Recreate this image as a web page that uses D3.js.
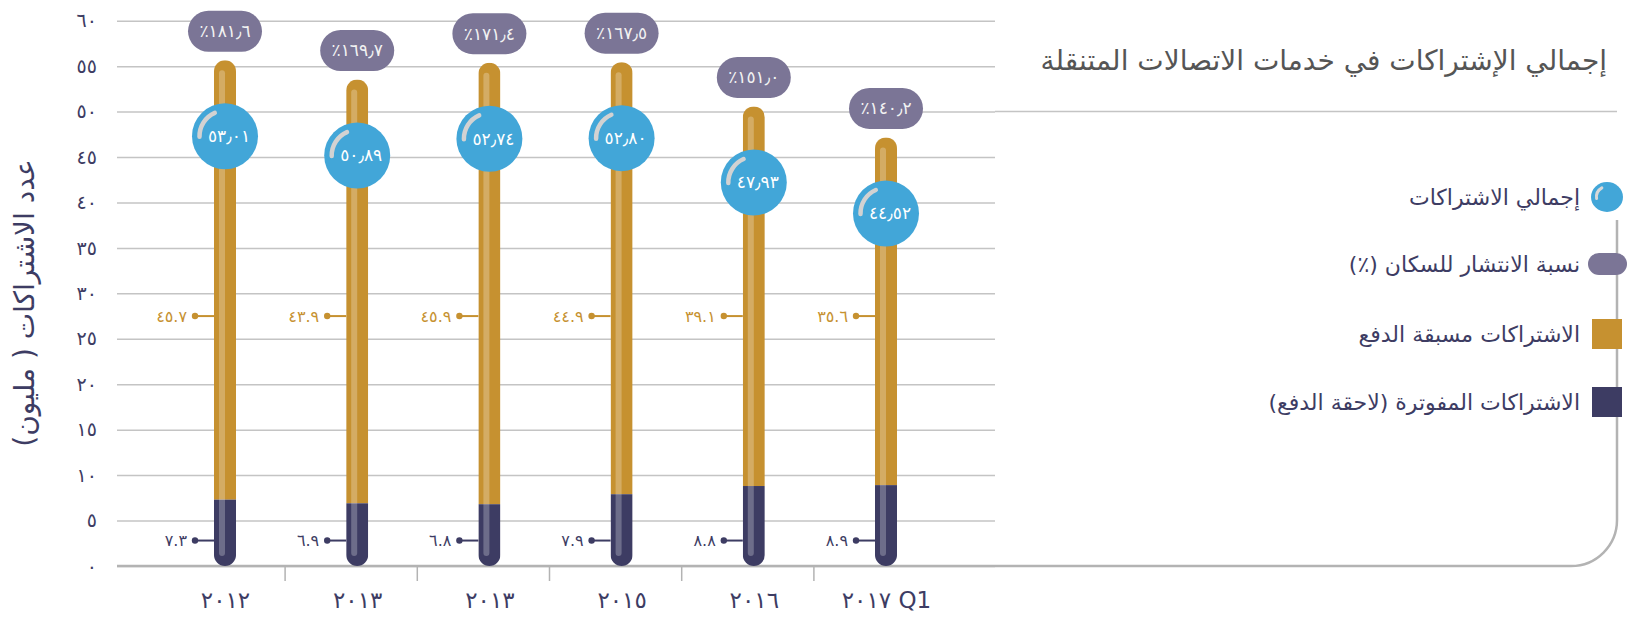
<!DOCTYPE html>
<html>
<head>
<meta charset="utf-8">
<script src="https://cdn.jsdelivr.net/npm/d3@7/dist/d3.min.js"></script>
<style>
body { margin: 0; background: #fff; }
svg text { font-family: "DejaVu Sans", sans-serif; }
</style>
</head>
<body>
<div id="chart"></div>
<script>
// data
var years = ["2012", "2013", "2014", "2015", "2016", "2017 Q1"];
var xLabels = ["٢٠١٢", "٢٠١٣", "٢٠١٣", "٢٠١٥", "٢٠١٦", "٢٠١٧ Q1"];
var prepaid = [45.7, 43.9, 45.9, 44.9, 39.1, 35.6];
var postpaid = [7.3, 6.9, 6.8, 7.9, 8.8, 8.9];
var totals = [53.01, 50.89, 52.74, 52.80, 47.93, 44.52];
var penetration = [181.6, 169.7, 171.4, 167.5, 151.0, 140.2];
var yTicks = [0, 5, 10, 15, 20, 25, 30, 35, 40, 45, 50, 55, 60];
var yTickLabels = ["٠", "٥", "١٠", "١٥", "٢٠", "٢٥", "٣٠", "٣٥", "٤٠", "٤٥", "٥٠", "٥٥", "٦٠"];
var legendLabels = ["إجمالي الاشتراكات", "نسبة الانتشار للسكان (٪)", "الاشتراكات مسبقة الدفع", "الاشتراكات المفوترة (لاحقة الدفع)"];
var title = "إجمالي الإشتراكات في خدمات الاتصالات المتنقلة";
var yTitle = "عدد الاشتراكات ( مليون)";

var gold = "#c69130", navy = "#3d3c63", blue = "#42a6d8", purple = "#7b7596", grid = "#c4c4c4";

function arabic(v, dec, sep) {
	var s = v.toFixed(dec).replace(".", sep);
	return s.replace(/[0-9]/g, function(c) { return "٠١٢٣٤٥٦٧٨٩"[+c]; });
}

var W = 1641, H = 617,
	left = 117, gridRight = 995, frameRight = 1617,
	barW = 22;

var svg = d3.select("#chart").append("svg")
	.attr("width", W)
	.attr("height", H);

var y = d3.scaleLinear().domain([0, 60]).range([566, 20.7]);
var x = d3.scalePoint().domain(years).range([225, 886]);

// y axis + grid
var yAxis = svg.append("g")
	.attr("transform", "translate(" + left + ",0)")
	.call(d3.axisLeft(y)
		.tickValues(yTicks)
		.tickSize(-(gridRight - left))
		.tickPadding(20)
		.tickFormat(function(d, i) { return yTickLabels[i]; }));
yAxis.select(".domain").remove();
yAxis.selectAll("line").attr("stroke", grid).attr("stroke-width", 1.5);
yAxis.selectAll("text").attr("fill", navy).attr("font-size", 19);

// title and its rule
svg.append("line")
	.attr("x1", gridRight).attr("x2", frameRight)
	.attr("y1", y(50)).attr("y2", y(50))
	.attr("stroke", grid).attr("stroke-width", 1.5);
svg.append("text")
	.attr("x", 1607).attr("y", 70)
	.attr("direction", "rtl")
	.attr("text-anchor", "start")
	.attr("font-size", 28)
	.attr("fill", "#555")
	.text(title);

// frame: bottom axis + right side with rounded corner
var r = 46;
svg.append("path")
	.attr("d", "M" + left + "," + y(0) + "H" + (frameRight - r) +
		"A" + r + "," + r + " 0 0 0 " + frameRight + "," + (y(0) - r) + "V220")
	.attr("fill", "none")
	.attr("stroke", "#b3b3b3")
	.attr("stroke-width", 2.5);

// x axis labels and separators
var xAxis = svg.append("g")
	.attr("transform", "translate(0," + y(0) + ")")
	.call(d3.axisBottom(x).tickSize(0).tickPadding(26)
		.tickFormat(function(d, i) { return xLabels[i]; }));
xAxis.select(".domain").remove();
xAxis.selectAll("text").attr("fill", navy).attr("font-size", 23);

svg.selectAll(".sep")
	.data(years.slice(1))
	.enter().append("line")
	.attr("class", "sep")
	.attr("x1", function(d, i) { return (x(years[i]) + x(d)) / 2 - 6; })
	.attr("x2", function(d, i) { return (x(years[i]) + x(d)) / 2 - 6; })
	.attr("y1", y(0)).attr("y2", y(0) + 15)
	.attr("stroke", "#b3b3b3").attr("stroke-width", 1.5);

// bars
var defs = svg.append("defs");
var bars = svg.selectAll(".bar")
	.data(years)
	.enter().append("g")
	.attr("class", "bar");

bars.each(function(d, i) {
	var g = d3.select(this),
		bx = x(d) - barW / 2,
		top = y(totals[i]) - 24,
		bottom = y(0);
	defs.append("clipPath").attr("id", "clip" + i)
		.append("rect")
		.attr("x", bx).attr("y", top)
		.attr("width", barW).attr("height", bottom - top)
		.attr("rx", barW / 2);
	var c = g.append("g").attr("clip-path", "url(#clip" + i + ")");
	c.append("rect")
		.attr("x", bx).attr("y", top)
		.attr("width", barW).attr("height", y(postpaid[i]) - top)
		.attr("fill", gold);
	c.append("rect")
		.attr("x", bx).attr("y", y(postpaid[i]))
		.attr("width", barW).attr("height", bottom - y(postpaid[i]))
		.attr("fill", navy);
	g.append("rect")
		.attr("x", bx + 5).attr("y", top + 10)
		.attr("width", 6).attr("height", bottom - top - 20)
		.attr("rx", 3)
		.attr("fill", "#fff").attr("opacity", 0.25);

	// side labels
	var ly = [y(27.5), y(2.8)], vals = [prepaid[i], postpaid[i]], cols = [gold, navy];
	ly.forEach(function(yy, k) {
		g.append("line")
			.attr("x1", bx - 19).attr("x2", bx)
			.attr("y1", yy).attr("y2", yy)
			.attr("stroke", cols[k]).attr("stroke-width", 2);
		g.append("circle")
			.attr("cx", bx - 19).attr("cy", yy).attr("r", 3.2)
			.attr("fill", cols[k]);
		g.append("text")
			.attr("x", bx - 27).attr("y", yy)
			.attr("dy", "0.35em")
			.attr("text-anchor", "end")
			.attr("font-size", 16)
			.attr("fill", cols[k])
			.text(arabic(vals[k], 1, "."));
	});

	// penetration pill
	var py = y(totals[i]) - 53;
	g.append("rect")
		.attr("x", x(d) - 37).attr("y", py - 20.5)
		.attr("width", 74).attr("height", 41)
		.attr("rx", 20.5)
		.attr("fill", purple);
	g.append("text")
		.attr("x", x(d)).attr("y", py)
		.attr("dy", "0.35em")
		.attr("text-anchor", "middle")
		.attr("font-size", 17)
		.attr("fill", "#f2f2f2")
		.text("٪" + arabic(penetration[i], 1, "٫"));

	// total bubble
	var cy = y(totals[i]) + 52, cx = x(d);
	g.append("circle")
		.attr("cx", cx).attr("cy", cy).attr("r", 33)
		.attr("fill", blue);
	var p = d3.path();
	p.arc(cx, cy, 25.5, 3.12, 4.3);
	g.append("path")
		.attr("d", p.toString())
		.attr("fill", "none")
		.attr("stroke", "#d2d2d2")
		.attr("stroke-width", 4.5)
		.attr("stroke-linecap", "round");
	g.append("text")
		.attr("x", cx + 4).attr("y", cy)
		.attr("dy", "0.35em")
		.attr("text-anchor", "middle")
		.attr("font-size", 17)
		.attr("fill", "#fff")
		.text(arabic(totals[i], 2, "٫"));
});

// y axis title
svg.append("text")
	.attr("transform", "translate(34,303) rotate(-90)")
	.attr("direction", "rtl")
	.attr("text-anchor", "middle")
	.attr("font-size", 28)
	.attr("fill", navy)
	.text(yTitle);

// legend
var legY = [197, 264, 334, 402];
var leg = svg.append("g");
leg.append("ellipse")
	.attr("cx", 1607).attr("cy", legY[0]).attr("rx", 16).attr("ry", 15)
	.attr("fill", blue);
var lp = d3.path();
lp.arc(1607, legY[0], 10.5, 3.0, 4.2);
leg.append("path").attr("d", lp.toString())
	.attr("fill", "none").attr("stroke", "#d8d8d8")
	.attr("stroke-width", 3).attr("stroke-linecap", "round");
leg.append("rect")
	.attr("x", 1588).attr("y", legY[1] - 11).attr("width", 39).attr("height", 22).attr("rx", 11)
	.attr("fill", purple);
leg.append("rect")
	.attr("x", 1592).attr("y", legY[2] - 15).attr("width", 30).attr("height", 30)
	.attr("fill", gold);
leg.append("rect")
	.attr("x", 1592).attr("y", legY[3] - 15).attr("width", 30).attr("height", 30)
	.attr("fill", navy);
leg.selectAll(".ltxt")
	.data(legendLabels)
	.enter().append("text")
	.attr("class", "ltxt")
	.attr("x", 1580)
	.attr("y", function(d, i) { return legY[i]; })
	.attr("dy", "0.35em")
	.attr("direction", "rtl")
	.attr("text-anchor", "start")
	.attr("font-size", 22)
	.attr("fill", navy)
	.text(function(d) { return d; });
</script>
</body>
</html>
